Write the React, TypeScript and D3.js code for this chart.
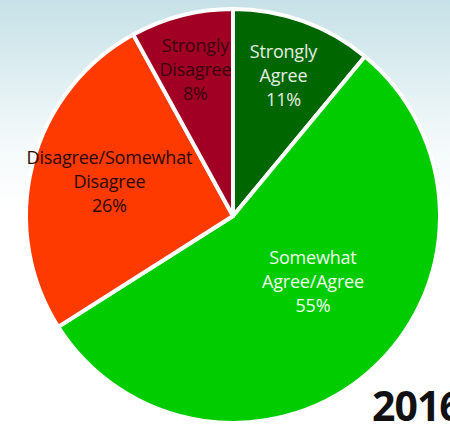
import { useMemo } from 'react';
import * as d3 from 'd3';

const categories = ['Strongly Agree', 'Somewhat Agree/Agree', 'Disagree/Somewhat Disagree', 'Strongly Disagree'];
const values = [11, 55, 26, 8];
const labelLines = [
  ['Strongly', 'Agree', '11%'],
  ['Somewhat', 'Agree/Agree', '55%'],
  ['Disagree/Somewhat', 'Disagree', '26%'],
  ['Strongly', 'Disagree', '8%'],
];
const yearLabel = '2016';

const COLORS = ['#006600', '#00cc00', '#ff3a00', '#a10024'];
const TEXT_COLORS = ['#e4efe2', '#f2fbef', '#2a0a00', '#3a0010'];

const WIDTH = 450;
const HEIGHT = 424;
const CX = 233;
const CY = 216;
const R = 207;

// label radius (fraction of R) and angle nudge (radians) per slice
const LABEL_POS = [
  { r: 0.72, da: 0 },
  { r: 0.5, da: -0.16 },
  { r: 0.62, da: 0.02 },
  { r: 0.73, da: 0 },
];

export default function App() {
  const arcs = useMemo(() => d3.pie<number>().sort(null).value(d => d)(values), []);
  const arc = d3.arc<d3.PieArcDatum<number>>().innerRadius(0).outerRadius(R);

  return (
    <div style={{ position: 'fixed', left: 0, top: 0, width: WIDTH, height: HEIGHT }}>
      <svg width={WIDTH} height={HEIGHT} style={{ display: 'block' }}>
        <defs>
          <linearGradient id="bg" x1="0" y1="0" x2="0" y2="1">
            <stop offset="0" stopColor="#c6e1e7" />
            <stop offset="0.33" stopColor="#f3f9fa" />
            <stop offset="0.5" stopColor="#ffffff" />
            <stop offset="1" stopColor="#ffffff" />
          </linearGradient>
        </defs>
        <rect width={WIDTH} height={HEIGHT} fill="url(#bg)" />
        <g transform={`translate(${CX},${CY})`}>
          {arcs.map((a, i) => (
            <path key={categories[i]} d={arc(a) || ''} fill={COLORS[i]} stroke="#fff" strokeWidth={4} strokeLinejoin="round" />
          ))}
          {arcs.map((a, i) => {
            const mid = (a.startAngle + a.endAngle) / 2 + LABEL_POS[i].da;
            const rr = R * LABEL_POS[i].r;
            const x = rr * Math.sin(mid);
            const y = -rr * Math.cos(mid);
            const lines = labelLines[i];
            return (
              <text
                key={'l' + i}
                x={x}
                y={y}
                textAnchor="middle"
                fill={TEXT_COLORS[i]}
                fontFamily="'Open Sans', sans-serif"
                fontSize={18}
                letterSpacing={-0.2}
              >
                {lines.map((t, j) => (
                  <tspan key={j} x={x} y={y + (j - (lines.length - 1) / 2) * 24} dy="0.35em">{t}</tspan>
                ))}
              </text>
            );
          })}
        </g>
        <text x={372} y={421} fontFamily="'Open Sans', sans-serif" fontWeight={700} fontSize={41} fill="#111" letterSpacing={-1}>
          {yearLabel}
        </text>
      </svg>
    </div>
  );
}
